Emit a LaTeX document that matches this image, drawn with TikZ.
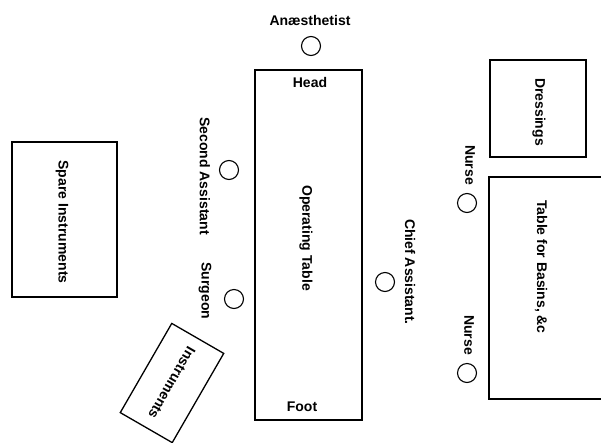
\documentclass[tikz,border=0pt]{standalone}
\usepackage{fontspec}
\setmainfont{Liberation Sans}
\begin{document}
\begin{tikzpicture}[x=1pt,y=-1pt,
  box/.style={draw, line width=1.3pt, inner sep=0pt, rectangle},
  person/.style={draw, circle, line width=1.1pt, minimum size=19pt, inner sep=0pt},
  lbl/.style={font=\fontsize{14}{16}\selectfont\bfseries, inner sep=0pt},
  vlbl/.style={lbl, rotate=-90}]
\useasboundingbox (0,0) rectangle (601,442);
% operating table
\node[box, minimum width=107pt, minimum height=350pt] (optable) at (308.5,245) {};
\node[lbl] (head) at (310,82) {Head};
\node[lbl] (foot) at (302,407) {Foot};
\node[vlbl] (optext) at (306,238) {Operating Table};
% anaesthetist
\node[lbl] (anaetext) at (310,20) {Anæsthetist};
\node[person] (anae) at (311,46) {};
% spare instruments
\node[box, minimum width=105pt, minimum height=155pt] (spare) at (64.5,219.5) {};
\node[vlbl] (sparetext) at (62,222) {Spare Instruments};
% second assistant and surgeon
\node[vlbl] (sectext) at (205,176) {Second Assistant};
\node[person] (second) at (229,170) {};
\node[vlbl] (surgtext) at (205,291) {Surgeon};
\node[person] (surgeon) at (234,299) {};
% instruments (tilted)
\node[box, rotate=-120, minimum width=103pt, minimum height=60pt, lbl] (instr) at (172,383) {Instruments};
% chief assistant
\node[vlbl] (chieftext) at (410,272) {Chief Assistant.};
\node[person] (chief) at (385,282) {};
% nurses
\node[vlbl] (nurse1text) at (470,165) {Nurse};
\node[person] (nurse1) at (467,203) {};
\node[vlbl] (nurse2text) at (469,335) {Nurse};
\node[person] (nurse2) at (467,373) {};
% dressings
\node[box, minimum width=96pt, minimum height=97pt] (dress) at (538,108.5) {};
\node[vlbl] (dresstext) at (539,112) {Dressings};
% table for basins
\node[box, minimum width=124pt, minimum height=222pt] (basins) at (551,288) {};
\node[vlbl] (basinstext) at (541,267) {Table for Basins, \&c};
\end{tikzpicture}
\end{document}
